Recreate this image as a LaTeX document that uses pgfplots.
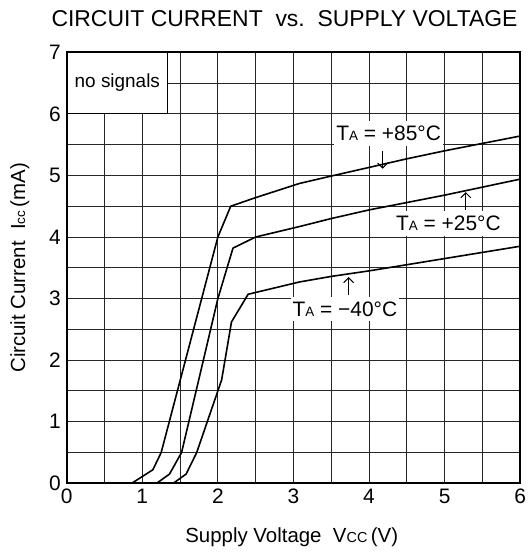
\documentclass[border=0pt]{standalone}
\usepackage{fontspec}
\setmainfont{Liberation Sans}
\usepackage{pgfplots}
\pgfplotsset{compat=1.18}
\usetikzlibrary{arrows.meta}
\newcommand{\TA}{T{\fontsize{13.5}{13.5}\selectfont A}}
\begin{document}
\begin{tikzpicture}[x=1bp,y=1bp]
\useasboundingbox (-66.7,-70.7) rectangle (462.3,483.3);
\begin{axis}[at={(0,0)}, anchor=south west,
  width=453.5bp, height=431bp, scale only axis,
  xmin=0, xmax=6, ymin=0, ymax=7,
  xtick={0,...,6}, ytick={0,...,7},
  minor xtick={0.5,1.5,...,5.5}, minor ytick={0.5,1.5,...,6.5},
  grid=both,
  major grid style={black!85, line width=0.9bp},
  minor grid style={black!85, line width=0.9bp},
  major tick length=0pt, minor tick length=0pt,
  axis line style={line width=1.8bp},
  /pgf/number format/assume math mode=true,
  tick label style={font=\fontsize{21}{25}\selectfont},
  xticklabel style={yshift=-2.5bp},
  yticklabel style={xshift=-2.5bp},
  clip=true,
]
% white label boxes
\draw[fill=white, line width=1bp] (axis cs:0,6) rectangle (axis cs:1.34,7);
\node[font=\fontsize{19}{23}\selectfont] at (axis cs:0.67,6.5) {no signals};
\node[fill=white, inner xsep=2bp, inner ysep=5bp, font=\fontsize{21}{25}\selectfont] at (axis cs:4.26,5.68) {\TA{} = +85°C};
\node[fill=white, inner xsep=2bp, inner ysep=5bp, font=\fontsize{21}{25}\selectfont] at (axis cs:5.05,4.22) {\TA{} = +25°C};
\node[fill=white, inner xsep=2bp, inner ysep=5bp, font=\fontsize{21}{25}\selectfont] at (axis cs:3.68,2.83) {\TA{} = −40°C};
% arrows
\draw[line width=1bp, -{Straight Barb[length=5bp,width=10bp]}] (axis cs:4.18,5.39) -- (axis cs:4.18,5.11);
\draw[line width=1bp, -{Straight Barb[length=5bp,width=10bp]}] (axis cs:5.28,4.44) -- (axis cs:5.28,4.73);
\draw[line width=1bp, -{Straight Barb[length=5bp,width=10bp]}] (axis cs:3.73,3.06) -- (axis cs:3.73,3.35);
% +85
\addplot[black, line width=1.6bp, line join=round] coordinates {
(0.86,0) (1.14,0.22) (1.25,0.5) (2.0,4.0) (2.17,4.5) (2.5,4.64) (3.08,4.87)
(3.5,4.99) (4,5.13) (4.5,5.27) (5,5.4) (5.5,5.52) (6,5.64)};
% +25
\addplot[black, line width=1.6bp, line join=round] coordinates {
(1.19,0) (1.36,0.15) (1.52,0.5) (2.0,3.0) (2.2,3.82) (2.5,4.0) (3.08,4.17)
(3.5,4.3) (4,4.44) (4.5,4.56) (5,4.68) (5.5,4.81) (6,4.94)};
% -40
\addplot[black, line width=1.6bp, line join=round] coordinates {
(1.41,0) (1.58,0.15) (1.72,0.5) (2.05,1.68) (2.18,2.62) (2.4,3.07) (3.08,3.27)
(3.5,3.36) (4,3.45) (4.5,3.55) (5,3.65) (5.5,3.75) (6,3.85)};
\draw[line width=1.8bp] (rel axis cs:0,0) rectangle (rel axis cs:1,1);
\end{axis}
\node[anchor=base east, inner sep=0pt, font=\fontsize{23}{27}\selectfont] at (451,456.5) {CIRCUIT CURRENT\ \ vs.\ \ SUPPLY VOLTAGE};
\node[anchor=base, font=\fontsize{20.5}{24}\selectfont] at (225,-59.5) {Supply Voltage\ \ V{\fontsize{14.5}{14.5}\selectfont CC}\,(V)};
\node[anchor=base, rotate=90, font=\fontsize{20.5}{24}\selectfont] at (-41.5,215.5) {Circuit Current\ \ I{\fontsize{13.5}{13.5}\selectfont cc}\,(mA)};
\end{tikzpicture}
\end{document}
